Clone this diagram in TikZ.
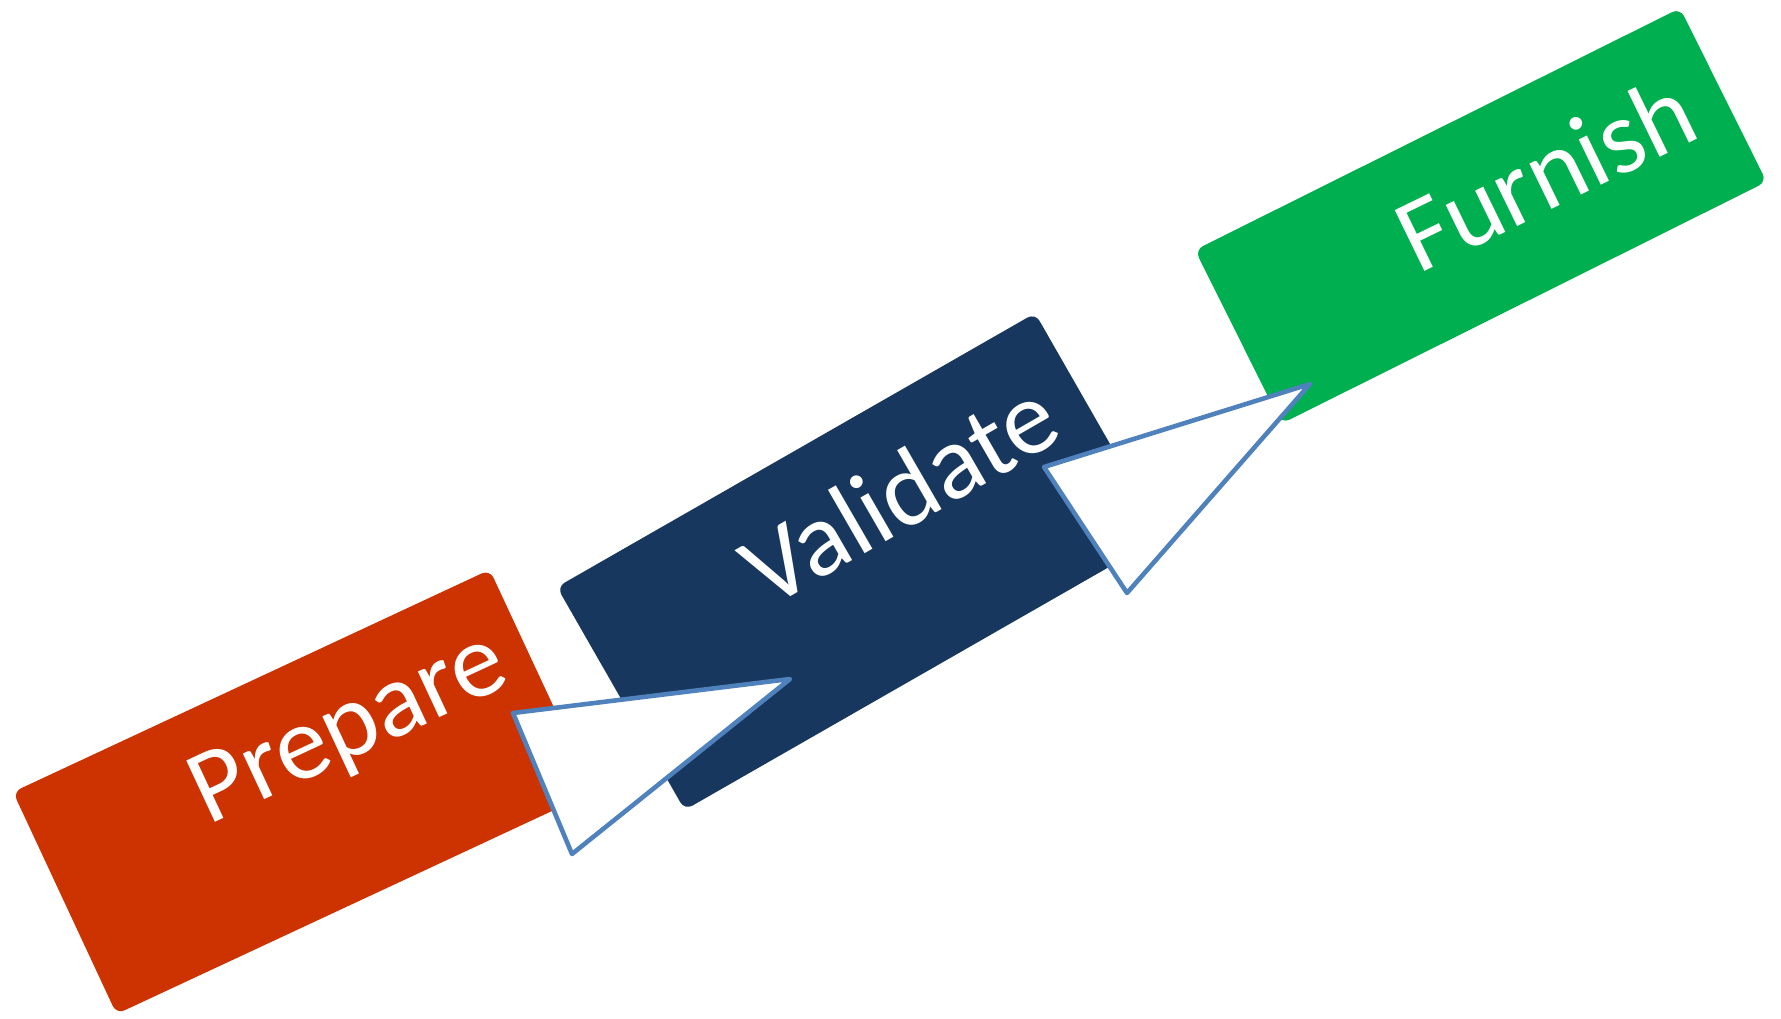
\documentclass[tikz,border=0pt]{standalone}
\usepackage{fontspec}
\setmainfont{Carlito}
\usepackage{tikz}
\definecolor{prepred}{RGB}{204,51,0}
\definecolor{valblue}{RGB}{23,55,94}
\definecolor{furngreen}{RGB}{0,176,80}
\definecolor{triblue}{RGB}{79,129,189}

\begin{document}
\begin{tikzpicture}[x=1cm,y=1cm,
  every node/.style={font=\fontsize{30}{34}\selectfont,text=white,inner sep=0pt},
  tile/.style={rounded corners=2.5pt},
  pointer/.style={draw=triblue,fill=white,line width=1.3pt,line join=round}]
\useasboundingbox (0,0) rectangle (17.81,10.18);
\begin{scope}[shift={(0.13,2.26)},rotate=25]
\fill[prepred,tile] (0,0) rectangle (5.26,-2.45);
\node[rotate=25] (prepare) at (3.31,-0.88) {Prepare};
\end{scope}
\begin{scope}[shift={(5.57,4.31)},rotate=29.8]
\fill[valblue,tile] (0,0) rectangle (5.51,-2.57);
\node[rotate=30] (validate) at (3.44,-0.88) {Validate};
\end{scope}
\begin{scope}[shift={(11.95,7.68)},rotate=26.5]
\fill[furngreen,tile] (0,0) rectangle (5.42,-1.94);
\node[rotate=26] (furnish) at (3.48,-0.87) {Furnish};
\end{scope}
\draw[pointer] (5.13,3.05) -- (7.90,3.39) -- (5.72,1.64) -- cycle;
\draw[pointer] (10.44,5.51) -- (13.10,6.34) -- (11.27,4.25) -- cycle;
\end{tikzpicture}
\end{document}
